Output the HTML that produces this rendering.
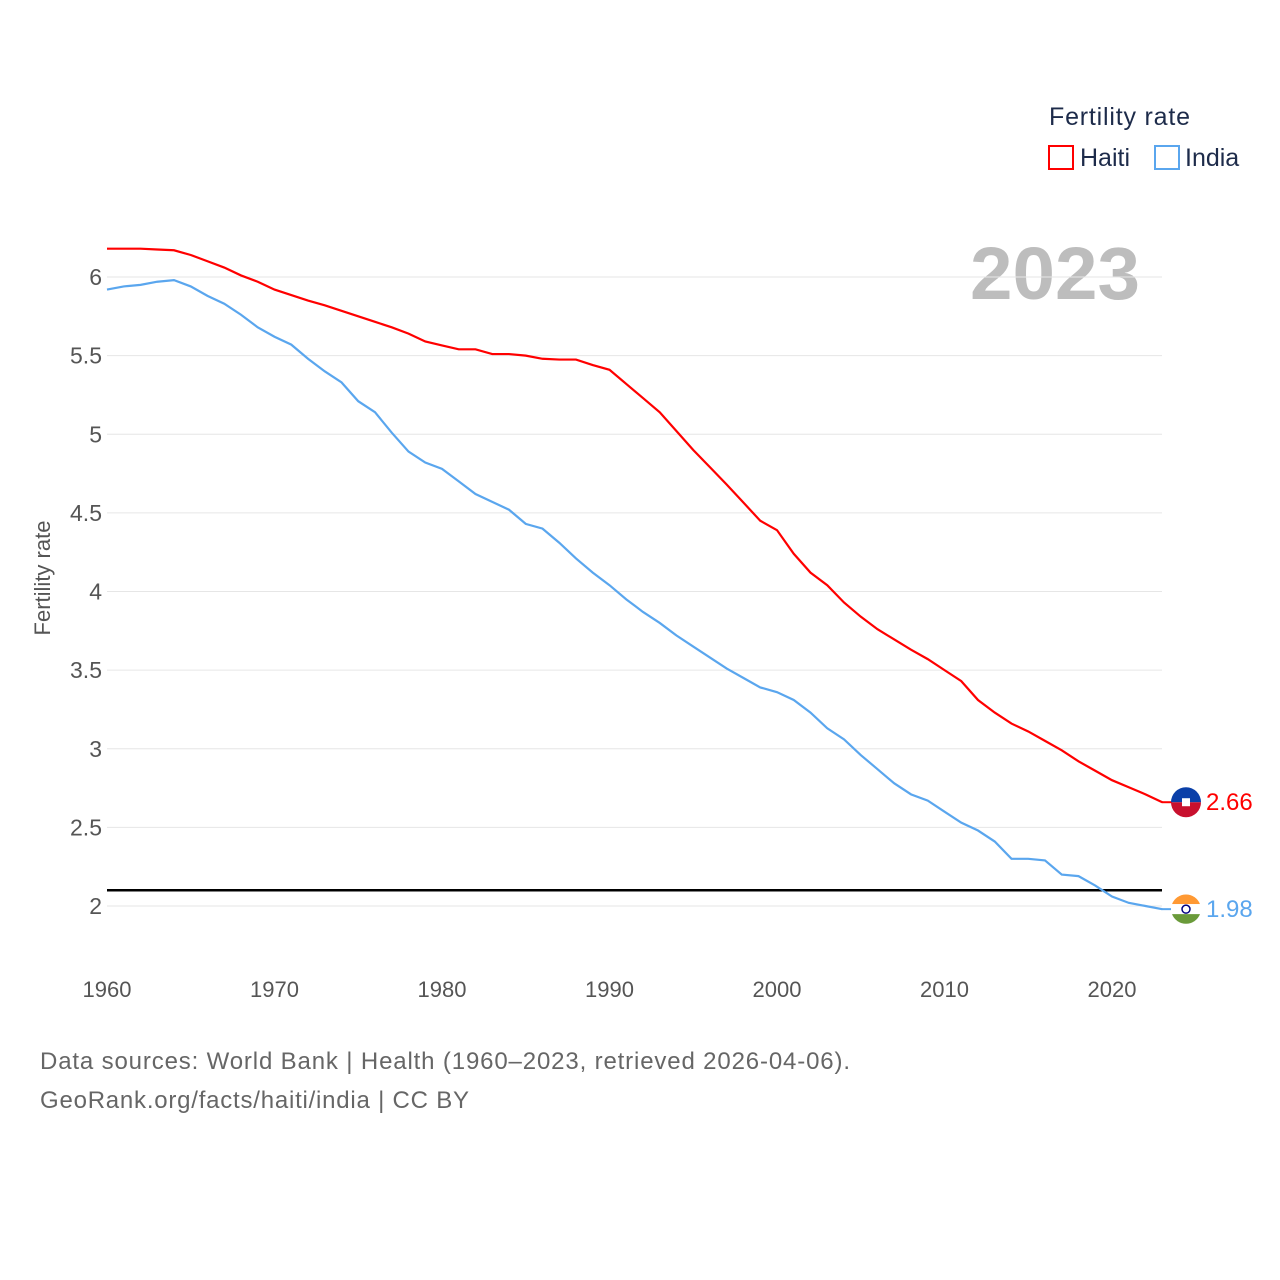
<!DOCTYPE html>
<html><head><meta charset="utf-8"><style>
body{margin:0;background:#fff;font-family:"Liberation Sans",sans-serif}
svg{display:block}
</style></head><body>
<svg id="chart" width="1280" height="1280" xmlns="http://www.w3.org/2000/svg">
<text x="1049" y="125" font-size="25" fill="#1d2b4a" textLength="141">Fertility rate</text>
<g><rect x="1049" y="146" width="24" height="23" fill="none" stroke="#f00" stroke-width="2"/><text x="1080" y="166" font-size="25" fill="#1d2b4a">Haiti</text></g>
<g><rect x="1155" y="146" width="24" height="23" fill="none" stroke="#5aa6ee" stroke-width="2"/><text x="1185" y="166" font-size="25" fill="#1d2b4a">India</text></g>
<text x="970" y="299" font-size="74" font-weight="bold" fill="#bdbdbd" textLength="170" lengthAdjust="spacingAndGlyphs">2023</text>
<text transform="translate(50,578) rotate(-90)" font-size="22" fill="#555" text-anchor="middle">Fertility rate</text>
<g id="grid"></g><g id="marks"></g>
<text x="40" y="1069" font-size="24" fill="#666" textLength="810">Data sources: World Bank | Health (1960–2023, retrieved 2026-04-06).</text>
<text x="40" y="1108" font-size="24" fill="#666" textLength="429">GeoRank.org/facts/haiti/india | CC BY</text>
</svg>
<script>
const years=[];for(let y=1960;y<=2023;y++)years.push(y);
const haiti=[6.18,6.18,6.18,6.175,6.17,6.14,6.10,6.06,6.01,5.97,5.92,5.885,5.85,5.82,5.785,5.75,5.715,5.68,5.64,5.59,5.565,5.54,5.54,5.51,5.51,5.50,5.48,5.475,5.475,5.44,5.41,5.32,5.23,5.14,5.02,4.90,4.79,4.68,4.565,4.45,4.39,4.24,4.12,4.04,3.93,3.84,3.76,3.695,3.63,3.57,3.50,3.43,3.31,3.23,3.16,3.11,3.05,2.99,2.92,2.86,2.80,2.755,2.71,2.66];
const india=[5.92,5.94,5.95,5.97,5.98,5.94,5.88,5.83,5.76,5.68,5.62,5.57,5.48,5.40,5.33,5.21,5.14,5.01,4.89,4.82,4.78,4.70,4.62,4.57,4.52,4.43,4.40,4.31,4.21,4.12,4.04,3.95,3.87,3.80,3.72,3.65,3.58,3.51,3.45,3.39,3.36,3.31,3.23,3.13,3.06,2.96,2.87,2.78,2.71,2.67,2.60,2.53,2.48,2.41,2.30,2.30,2.29,2.20,2.19,2.13,2.06,2.02,2.00,1.98];
const yTicks=[2,2.5,3,3.5,4,4.5,5,5.5,6];
const xTicks=[1960,1970,1980,1990,2000,2010,2020];
const refLevel=[2.1];
const NS="http://www.w3.org/2000/svg";
const X=y=>107+(y-1960)*16.75, Y=v=>906-(v-2)*157.25;
const grid=document.getElementById('grid'),marks=document.getElementById('marks');
function mk(tag,a,p){const e=document.createElementNS(NS,tag);for(const k in a)e.setAttribute(k,a[k]);p.appendChild(e);return e;}
yTicks.forEach(t=>{
 const l=mk('line',{x1:107,x2:1162,y1:Y(t),y2:Y(t),stroke:'#e6e6e6','stroke-width':1},grid);
 
 
 const tx=mk('text',{x:102,y:Y(t)+8,'font-size':23,fill:'#555','text-anchor':'end'},grid);tx.textContent=t;
 
 
});
xTicks.forEach(t=>{
 const tx=mk('text',{x:X(t),y:997,'font-size':22,fill:'#555','text-anchor':'middle'},grid);tx.textContent=t;
 
 
});
const ref=mk('line',{x1:107,x2:1162,y1:Y(refLevel[0]),y2:Y(refLevel[0]),stroke:'#000','stroke-width':2.5},marks);


function series(vals,color,name){
 const p=mk('path',{d:vals.map((v,i)=>(i?'L':'M')+X(years[i])+','+Y(v)).join(''),fill:'none',stroke:color,'stroke-width':2.2},marks);
 
 
 const last=vals[vals.length-1],yy=Y(last);
 mk('line',{x1:1162,x2:1172,y1:yy,y2:yy,stroke:color,'stroke-width':2},marks);
 const g=mk('g',{},marks);
 
 
 if(name==='haiti'){
  mk('path',{d:`M1171,${yy}a15,15 0 0 1 30,0z`,fill:'#0a3fa8'},g);
  mk('path',{d:`M1171,${yy}a15,15 0 0 0 30,0z`,fill:'#c8102e'},g);
  mk('rect',{x:1182,y:yy-4,width:8,height:8,fill:'#fff'},g);
 }else{
  mk('path',{d:`M1172,${yy-5}a15,15 0 0 1 28,0z`,fill:'#ff9933'},g);
  mk('rect',{x:1171,y:yy-5,width:30,height:10,fill:'#fff'},g);
  mk('path',{d:`M1172,${yy+5}a15,15 0 0 0 28,0z`,fill:'#6a9a3a'},g);
  mk('circle',{cx:1186,cy:yy,r:4,fill:'none',stroke:'#000080','stroke-width':1.5},g);
 }
 const t=mk('text',{x:1206,y:yy+8,'font-size':24,fill:color},marks);t.textContent=last.toFixed(2);
 
 
}
series(haiti,'#f00','haiti');
series(india,'#5aa6ee','india');
</script>
</body></html>
